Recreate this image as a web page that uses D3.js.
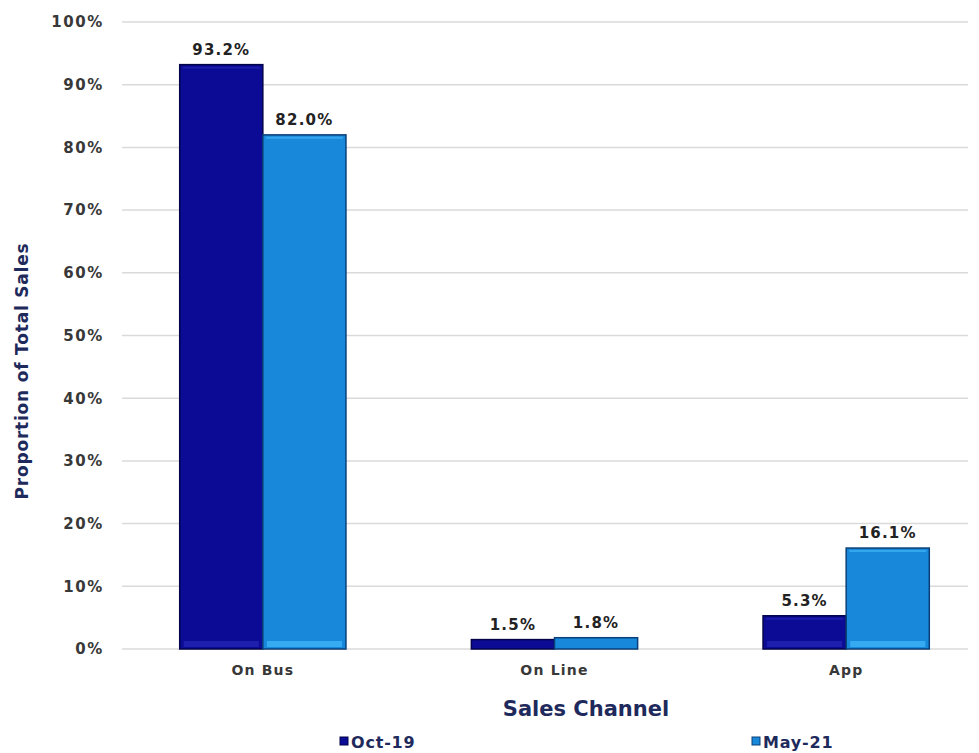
<!DOCTYPE html>
<html><head><meta charset="utf-8">
<script src="https://cdn.jsdelivr.net/npm/d3@7"></script>
<style>body{margin:0;background:#fff}svg{display:block}</style>
</head><body>
<script>
const categories = ["On Bus", "On Line", "App"];
const seriesNames = ["Oct-19", "May-21"];
const oct19 = [93.2, 1.5, 5.3];
const may21 = [82.0, 1.8, 16.1];
const yTicks = [0, 10, 20, 30, 40, 50, 60, 70, 80, 90, 100];

const W = 979, H = 753;
const svg = d3.select("body").append("svg").attr("width", W).attr("height", H);
const font = "'DejaVu Sans', Verdana, sans-serif";
const colors = {"Oct-19": "#0b0b96", "May-21": "#1888da"};
const strokes = {"Oct-19": "#03034a", "May-21": "#0a3f78"};
const highlights = {"Oct-19": "#2424b4", "May-21": "#40b4f7"};

const y = d3.scaleLinear().domain([0, 100]).range([649, 22]);
const x = d3.scaleBand().domain(categories).range([117, 992]).paddingInner(0.43).paddingOuter(0.215);
const xs = d3.scaleBand().domain(seriesNames).range([0, x.bandwidth()]);

// gridlines
svg.append("g").selectAll("line").data(yTicks).join("line")
  .attr("x1", 122).attr("x2", 968)
  .attr("y1", d => y(d)).attr("y2", d => y(d))
  .attr("stroke", "#dadada").attr("stroke-width", 1.5);

// y axis
const yAxis = svg.append("g").attr("transform", "translate(106,0)")
  .call(d3.axisLeft(y).tickValues(yTicks).tickFormat(d => d + "%").tickSize(0).tickPadding(2));
yAxis.select(".domain").remove();
yAxis.selectAll("text").attr("font-family", font).attr("font-weight", "bold")
  .attr("font-size", 15).attr("letter-spacing", 1.6).attr("fill", "#383838");

// x axis
const xAxis = svg.append("g").attr("transform", "translate(0,649)")
  .call(d3.axisBottom(x).tickSize(0).tickPadding(16));
xAxis.select(".domain").remove();
xAxis.selectAll("text").attr("font-family", font).attr("font-weight", "bold")
  .attr("font-size", 14).attr("letter-spacing", 1.2).attr("fill", "#383838");

// bars
const rows = categories.map((c, i) => ({cat: c, vals: [{s: "Oct-19", v: oct19[i]}, {s: "May-21", v: may21[i]}]}));
const groups = svg.append("g").selectAll("g").data(rows).join("g")
  .attr("transform", d => `translate(${x(d.cat)},0)`);
const bars = groups.selectAll("g").data(d => d.vals).join("g");
bars.append("rect")
  .attr("x", d => xs(d.s)).attr("width", xs.bandwidth())
  .attr("y", d => y(d.v)).attr("height", d => y(0) - y(d.v))
  .attr("fill", d => colors[d.s]).attr("stroke", d => strokes[d.s]).attr("stroke-width", 1.5);
// bevel highlights
bars.filter(d => y(0) - y(d.v) > 12).append("rect")
  .attr("x", d => xs(d.s) + 4).attr("width", xs.bandwidth() - 8)
  .attr("y", d => y(0) - 8).attr("height", 6)
  .attr("fill", d => highlights[d.s]).attr("opacity", 0.8);
bars.filter(d => y(0) - y(d.v) > 12).append("line")
  .attr("x1", d => xs(d.s) + 3).attr("x2", d => xs(d.s) + xs.bandwidth() - 3)
  .attr("y1", d => y(d.v) + 3).attr("y2", d => y(d.v) + 3)
  .attr("stroke", d => highlights[d.s]).attr("stroke-width", 2).attr("opacity", 0.7);
bars.append("text")
  .attr("x", d => xs(d.s) + xs.bandwidth() / 2)
  .attr("y", d => y(d.v) - 10)
  .attr("text-anchor", "middle")
  .attr("font-family", font).attr("font-weight", "bold").attr("font-size", 15)
  .attr("letter-spacing", 1.2).attr("fill", "#222")
  .text(d => d.v.toFixed(1) + "%");

// axis titles
svg.append("text").attr("transform", "translate(28,371) rotate(-90)")
  .attr("text-anchor", "middle").attr("font-family", font).attr("font-weight", "bold")
  .attr("font-size", 17).attr("letter-spacing", 0.8).attr("fill", "#1f2a5c").text("Proportion of Total Sales");
svg.append("text").attr("x", 586).attr("y", 716)
  .attr("text-anchor", "middle").attr("font-family", font).attr("font-weight", "bold")
  .attr("font-size", 21).attr("fill", "#1f2a5c").text("Sales Channel");

// legend
const legendX = [340, 752];
const lg = svg.append("g").selectAll("g").data(seriesNames).join("g")
  .attr("transform", (d, i) => `translate(${legendX[i]},748)`);
lg.append("rect").attr("x", 0).attr("y", -11).attr("width", 8).attr("height", 8)
  .attr("fill", d => colors[d]).attr("stroke", d => strokes[d]);
lg.append("text").attr("x", 11).attr("y", 0)
  .attr("font-family", font).attr("font-weight", "bold").attr("font-size", 16)
  .attr("letter-spacing", 0.8).attr("fill", "#1f2a5c").text(d => d);
</script>
</body></html>
